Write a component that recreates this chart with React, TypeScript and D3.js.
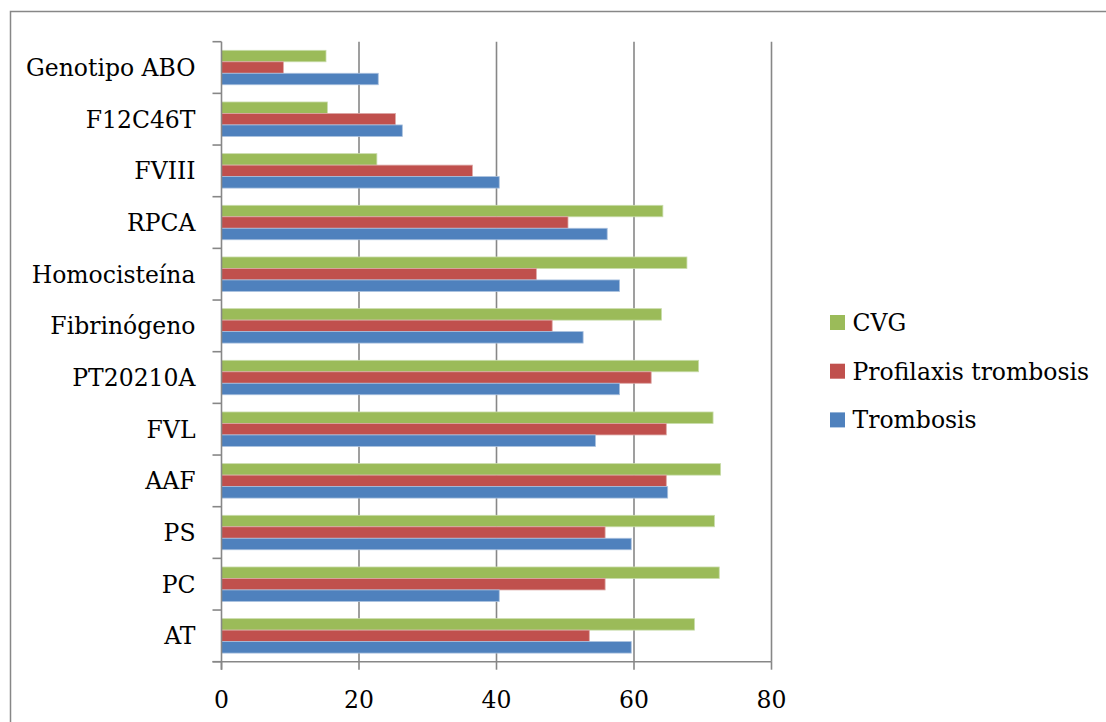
import React from "react";
import * as d3 from "d3";

const categories = [
  "Genotipo ABO",
  "F12C46T",
  "FVIII",
  "RPCA",
  "Homocisteína",
  "Fibrinógeno",
  "PT20210A",
  "FVL",
  "AAF",
  "PS",
  "PC",
  "AT",
];

const seriesNames = ["CVG", "Profilaxis trombosis", "Trombosis"];
const seriesColors = ["#9BBB59", "#C0504D", "#4F81BD"];
const seriesStroke = ["#c9dcab", "#dca7a5", "#a9c0de"];

const cvg = [15.2, 15.4, 22.6, 64.2, 67.7, 64.0, 69.4, 71.5, 72.6, 71.7, 72.4, 68.8];
const profilaxis = [9.0, 25.3, 36.5, 50.4, 45.8, 48.1, 62.5, 64.7, 64.7, 55.8, 55.8, 53.5];
const trombosis = [22.8, 26.3, 40.4, 56.1, 57.9, 52.6, 57.9, 54.4, 64.9, 59.6, 40.4, 59.6];

const seriesValues = [cvg, profilaxis, trombosis];
const xTicks = [0, 20, 40, 60, 80];

const W = 1106;
const H = 722;
const plot = { left: 221.5, right: 771.5, top: 41.7, bottom: 661.7 };
const FONT = "'DejaVu Serif', 'Liberation Serif', serif";
const FS = 23.5;
const GRID = "#878787";

export default function App() {
  const x = d3.scaleLinear().domain([0, 80]).range([plot.left, plot.right]);
  const y = d3
    .scaleBand<string>()
    .domain(categories)
    .range([plot.top, plot.bottom])
    .padding(0);
  const inner = d3
    .scaleBand<string>()
    .domain(seriesNames)
    .range([0, y.step()])
    .paddingInner(0)
    .paddingOuter(0.75);

  const boundaries = d3.range(categories.length + 1).map(
    (i) => plot.top + i * y.step()
  );

  return (
    <svg
      width={W}
      height={H}
      style={{ position: "fixed", left: 0, top: 0, background: "#fff" }}
    >
      {/* outer chart frame */}
      <rect
        x={10.5}
        y={11.5}
        width={W + 10}
        height={H + 10}
        fill="#fff"
        stroke={GRID}
        strokeWidth={1.5}
      />

      {/* vertical gridlines */}
      {xTicks
        .filter((t) => t > 0)
        .map((t) => (
          <line
            key={"g" + t}
            x1={x(t)}
            x2={x(t)}
            y1={plot.top}
            y2={plot.bottom}
            stroke={GRID}
            strokeWidth={1.6}
          />
        ))}

      {/* bars */}
      {categories.map((c, ci) => (
        <g key={c} transform={`translate(0,${y(c)})`}>
          {seriesNames.map((s, si) => (
            <rect
              key={s}
              x={x(0)}
              y={inner(s)}
              width={x(seriesValues[si][ci]) - x(0)}
              height={inner.bandwidth()}
              fill={seriesColors[si]}
              stroke={seriesStroke[si]}
              strokeWidth={0.8}
            />
          ))}
        </g>
      ))}

      {/* category axis */}
      <line
        x1={plot.left}
        x2={plot.left}
        y1={plot.top}
        y2={plot.bottom + 8}
        stroke={GRID}
        strokeWidth={1.6}
      />
      {boundaries.map((b, i) => (
        <line
          key={"yt" + i}
          x1={plot.left - 9}
          x2={plot.left}
          y1={b}
          y2={b}
          stroke={GRID}
          strokeWidth={1.6}
        />
      ))}
      {categories.map((c) => (
        <text
          key={"l" + c}
          x={plot.left - 26}
          y={(y(c) as number) + y.step() / 2 + 8.5}
          textAnchor="end"
          fontFamily={FONT}
          fontSize={FS}
          fill="#000"
        >
          {c}
        </text>
      ))}

      {/* value axis */}
      <line
        x1={plot.left - 9}
        x2={plot.right}
        y1={plot.bottom}
        y2={plot.bottom}
        stroke={GRID}
        strokeWidth={1.6}
      />
      {xTicks.map((t) => (
        <g key={"xt" + t}>
          <line
            x1={x(t)}
            x2={x(t)}
            y1={plot.bottom}
            y2={plot.bottom + 8}
            stroke={GRID}
            strokeWidth={1.6}
          />
          <text
            x={x(t)}
            y={707.5}
            textAnchor="middle"
            fontFamily={FONT}
            fontSize={FS}
            fill="#000"
          >
            {t}
          </text>
        </g>
      ))}

      {/* legend */}
      {seriesNames.map((s, i) => (
        <g key={"lg" + s} transform={`translate(830,${315 + i * 48.7})`}>
          <rect x={0} y={0} width={15} height={15} fill={seriesColors[i]} />
          <text
            x={22.5}
            y={16}
            fontFamily={FONT}
            fontSize={FS}
            fill="#000"
          >
            {s}
          </text>
        </g>
      ))}
    </svg>
  );
}
